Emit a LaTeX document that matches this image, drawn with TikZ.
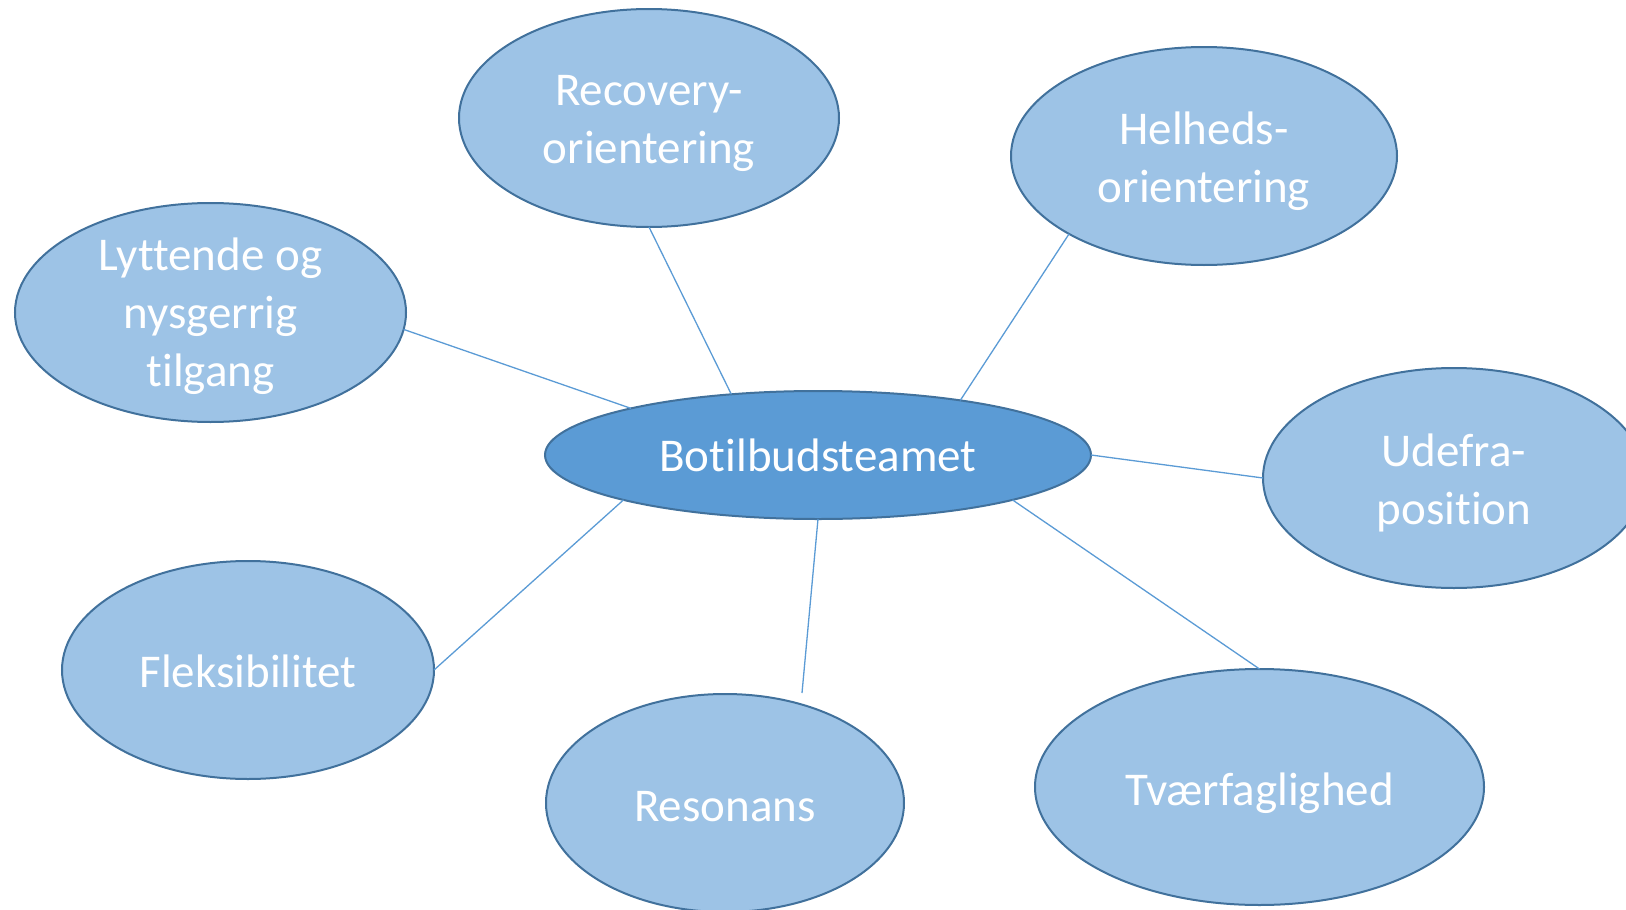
\documentclass[tikz,border=0pt]{standalone}
\usepackage{fontspec}
\setmainfont{Carlito}[Ligatures={NoCommon}]
\usetikzlibrary{shapes.geometric}
\definecolor{outerfill}{HTML}{9DC3E6}
\definecolor{centerfill}{HTML}{5B9BD5}
\definecolor{rim}{HTML}{41719C}
\definecolor{link}{HTML}{5B9BD5}
\tikzset{
  bubble/.style={ellipse, draw=rim, line width=2pt, fill=outerfill, inner sep=0pt, outer sep=0pt},
  hub/.style={bubble, fill=centerfill},
  lbl/.style={text=white, align=center, inner sep=0pt, font=\fontsize{47}{58}\selectfont},
  conn/.style={draw=link, line width=1.3pt}
}
\begin{document}
\begin{tikzpicture}[x=1pt,y=-1pt]
\useasboundingbox (0,0) rectangle (1626,910);
% ellipses
\node[hub, minimum width=546pt, minimum height=128pt] (C) at (818,455) {};
\node[bubble, minimum width=380pt, minimum height=218pt] (R) at (649,118) {};
\node[bubble, minimum width=386pt, minimum height=218pt] (H) at (1204,156) {};
\node[bubble, minimum width=391pt, minimum height=219pt] (L) at (210.5,312.5) {};
\node[bubble, minimum width=382pt, minimum height=220pt] (U) at (1454,478) {};
\node[bubble, minimum width=372pt, minimum height=218pt] (F) at (248,670) {};
\node[bubble, minimum width=358pt, minimum height=218pt] (S) at (725,803) {};
\node[bubble, minimum width=449pt, minimum height=236pt] (T) at (1259.5,787) {};
\coordinate (Send) at (802,693);
% connectors
\draw[conn] (L.-5) -- (C.166);
\draw[conn] (R.south) -- (C.145);
\draw[conn] (H.210) -- (C.21);
\draw[conn] (C.east) -- (U.west);
\draw[conn] (C.-13) -- (T.north);
\draw[conn] (C.south) -- (Send);
\draw[conn] (C.193.5) -- (F.east);
% labels
\node[lbl] (Ct) at (C) {Botilbudsteamet};
\node[lbl] (Rt) at ([yshift=-5pt]R.center) {Recovery-\\orientering};
\node[lbl] (Ht) at ([yshift=-5pt]H.center) {Helheds-\\orientering};
\node[lbl] (Lt) at ([yshift=-4pt]L.center) {Lyttende og\\nysgerrig\\tilgang};
\node[lbl] (Ut) at ([yshift=-5pt]U.center) {Udefra-\\position};
\node[lbl] (Ft) at ([yshift=-1pt]F.center) {Fleksibilitet};
\node[lbl] (St) at ([yshift=-4pt]S.center) {Resonans};
\node[lbl] (Tt) at ([yshift=-6pt]T.center) {Tværfaglighed};
\end{tikzpicture}
\end{document}
